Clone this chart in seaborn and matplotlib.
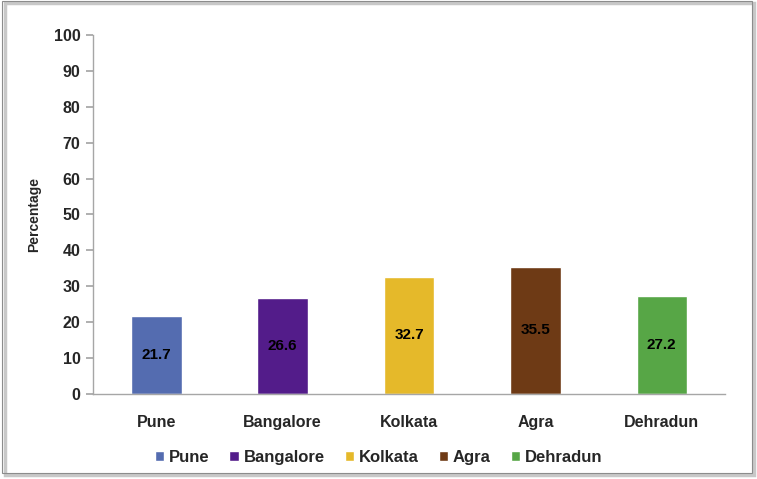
import pandas as pd
import matplotlib.pyplot as plt
import seaborn as sns
from matplotlib.patches import Rectangle

# --- DATA ---
cities = ["Pune", "Bangalore", "Kolkata", "Agra", "Dehradun"]
percentages = [21.7, 26.6, 32.7, 35.5, 27.2]
colors = ["#546CB0", "#531C8A", "#E5B92A", "#6E3A15", "#57A646"]
y_ticks = [0, 10, 20, 30, 40, 50, 60, 70, 80, 90, 100]

df = pd.DataFrame({"city": cities, "pct": percentages})

sns.set_theme(style="white")
plt.rcParams['font.family'] = ['Liberation Sans', 'DejaVu Sans']

fig = plt.figure(figsize=(7.57, 4.79), dpi=100)
ax = fig.add_axes([0.1229, 0.1775, 0.8348, 0.7494])

sns.barplot(data=df, x="city", y="pct", hue="city", palette=colors,
            width=0.4, dodge=False, legend=True, ax=ax, saturation=1)

# value labels in the middle of each bar
for i, v in enumerate(percentages):
    ax.text(i, v / 2, f"{v:.1f}", ha="center", va="center",
            fontsize=11, fontweight="bold", color="black")

ax.set_ylim(0, 100)
ax.set_xlim(-0.5, len(cities) - 0.5)
ax.set_yticks(y_ticks)
ax.set_ylabel("Percentage", fontsize=10, fontweight="bold", labelpad=9)
ax.set_xlabel("")
for lbl in ax.get_xticklabels() + ax.get_yticklabels():
    lbl.set_fontweight("bold")
    lbl.set_fontsize(11.5)

for s in ["top", "right"]:
    ax.spines[s].set_visible(False)
for s in ["left", "bottom"]:
    ax.spines[s].set_color("#A6A6A6")
    ax.spines[s].set_linewidth(1)
ax.tick_params(axis="y", left=True, length=5, color="#A6A6A6", pad=4)
ax.tick_params(axis="x", bottom=False, pad=9)

sns.move_legend(ax, "center", bbox_to_anchor=(0.5, 0.045),
                bbox_transform=fig.transFigure, ncol=5, frameon=False,
                title=None, handlelength=0.55, handleheight=0.55,
                handletextpad=0.3, columnspacing=1.2,
                prop={"weight": "bold", "size": 12})

# figure border with slight shadow
fig.patches.append(Rectangle((0.006, 0.008), 0.990, 0.985, transform=fig.transFigure,
                             fill=False, edgecolor="#C8C8C8", linewidth=2.5, zorder=0))
fig.patches.append(Rectangle((0.003, 0.012), 0.990, 0.985, transform=fig.transFigure,
                             fill=False, edgecolor="#8C8C8C", linewidth=0.8, zorder=1))

fig.savefig("out.png", dpi=100)
